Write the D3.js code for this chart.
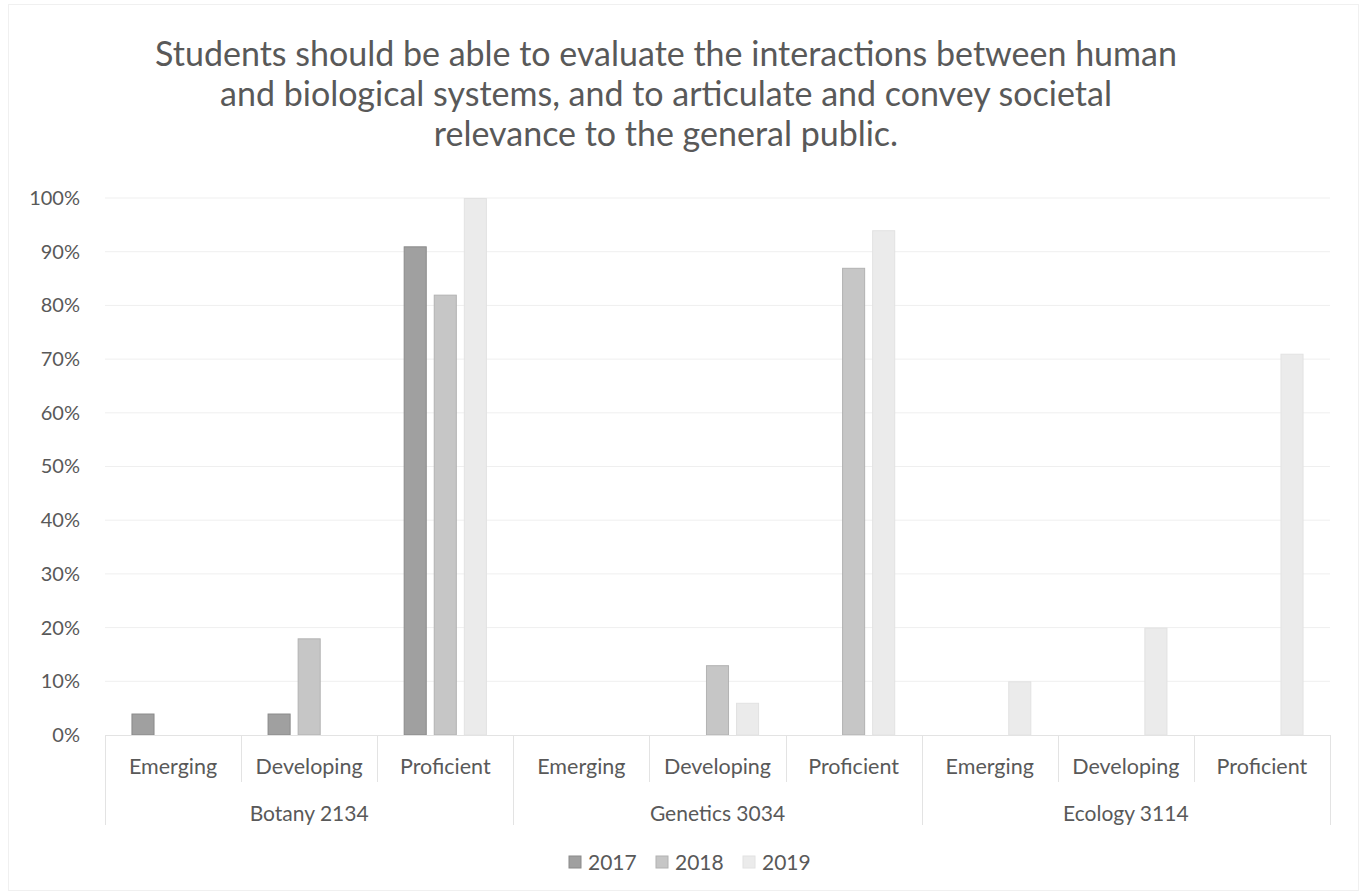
<!DOCTYPE html>
<html>
<head>
<meta charset="utf-8">
<script src="https://cdn.jsdelivr.net/npm/d3@7"></script>
<style>
  body { margin: 0; background: #fff; }
  svg text { font-family: Lato, "Open Sans", sans-serif; fill: #595959; }
</style>
</head>
<body>
<div id="chart"></div>
<script>
var courses = ["Botany 2134", "Genetics 3034", "Ecology 3114"];
var levels = ["Emerging", "Developing", "Proficient"];
var years = ["2017", "2018", "2019"];
// values per year, in order course x level
var v2017 = [0.04, 0.04, 0.91, 0, 0, 0, 0, 0, 0];
var v2018 = [0, 0.18, 0.82, 0, 0.13, 0.87, 0, 0, 0];
var v2019 = [0, 0, 1.00, 0, 0.06, 0.94, 0.10, 0.20, 0.71];
var yTicks = [0, 0.1, 0.2, 0.3, 0.4, 0.5, 0.6, 0.7, 0.8, 0.9, 1.0];
var titleLines = [
  "Students should be able to evaluate the interactions between human",
  "and biological systems, and to articulate and convey societal",
  "relevance to the general public."
];

var size = { width: 1365, height: 896 };
var plot = { left: 105, right: 1330, top: 198, bottom: 735 };
var fills = { "2017": "#a0a0a0", "2018": "#c6c6c6", "2019": "#ebebeb" };
var strokes = { "2017": "#8a8a8a", "2018": "#b2b2b2", "2019": "#e2e2e2" };
var gridColor = "#efefef";
var lineColor = "#e3e3e3";

var svg = d3.select("#chart").append("svg")
    .attr("width", size.width)
    .attr("height", size.height);

// chart border
svg.append("rect")
    .attr("x", 8.5).attr("y", 4.5)
    .attr("width", 1350).attr("height", 886)
    .attr("fill", "none")
    .attr("stroke", "#f0f0f0");

// Title
svg.append("g").selectAll("text")
    .data(titleLines)
    .enter().append("text")
    .attr("x", 666)
    .attr("y", (d, i) => 66 + i * 40)
    .attr("text-anchor", "middle")
    .attr("font-size", 34)
    .text(d => d);

// flat list of categories
var cats = [];
courses.forEach(c => levels.forEach(l => cats.push(c + "|" + l)));

var x0 = d3.scaleBand().domain(cats).range([plot.left, plot.right]);
var x1 = d3.scaleBand().domain(years).range([0, x0.bandwidth()])
    .paddingInner(0.233).paddingOuter(0.88);
var y = d3.scaleLinear().domain([0, 1]).range([plot.bottom, plot.top]);

// Gridlines
svg.append("g").selectAll("line")
    .data(yTicks.slice(1))
    .enter().append("line")
    .attr("x1", plot.left).attr("x2", plot.right)
    .attr("y1", d => y(d)).attr("y2", d => y(d))
    .attr("stroke", gridColor);

// Y axis
var yAxis = svg.append("g")
    .attr("transform", "translate(" + plot.left + ",0)")
    .call(d3.axisLeft(y).tickValues(yTicks).tickFormat(d3.format(".0%")).tickSize(0).tickPadding(25));
yAxis.select(".domain").remove();
yAxis.selectAll("text").attr("font-size", 20).attr("fill", "#595959")
    .style("font-family", "Lato, sans-serif");

// Bars
var series = [v2017, v2018, v2019];
years.forEach((yr, k) => {
  svg.append("g").selectAll("rect")
    .data(series[k].map((v, i) => ({ cat: cats[i], value: v })).filter(d => d.value > 0))
    .enter().append("rect")
    .attr("x", d => x0(d.cat) + x1(yr) + 0.5)
    .attr("y", d => y(d.value) + 0.5)
    .attr("width", x1.bandwidth() - 1)
    .attr("height", d => y(0) - y(d.value) - 0.5)
    .attr("fill", fills[yr])
    .attr("stroke", strokes[yr]);
});

// Category axis
svg.append("line")
    .attr("x1", plot.left).attr("x2", plot.right)
    .attr("y1", plot.bottom + 0.5).attr("y2", plot.bottom + 0.5)
    .attr("stroke", lineColor);

var bounds = cats.map(c => x0(c)).concat([plot.right]);
svg.append("g").selectAll("line")
    .data(bounds)
    .enter().append("line")
    .attr("x1", d => Math.round(d) + 0.5).attr("x2", d => Math.round(d) + 0.5)
    .attr("y1", plot.bottom)
    .attr("y2", (d, i) => i % 3 === 0 ? 825 : 782)
    .attr("stroke", lineColor);

svg.append("g").selectAll("text")
    .data(cats)
    .enter().append("text")
    .attr("x", d => x0(d) + x0.bandwidth() / 2)
    .attr("y", 774)
    .attr("text-anchor", "middle")
    .attr("font-size", 21.5)
    .text(d => d.split("|")[1]);

svg.append("g").selectAll("text")
    .data(courses)
    .enter().append("text")
    .attr("x", c => x0(c + "|" + levels[1]) + x0.bandwidth() / 2)
    .attr("y", 821)
    .attr("text-anchor", "middle")
    .attr("font-size", 21)
    .text(d => d);

// Legend
var legendX = [569, 656, 743];
var legend = svg.append("g").selectAll("g")
    .data(years)
    .enter().append("g")
    .attr("transform", (d, i) => "translate(" + legendX[i] + ",856)");
legend.append("rect")
    .attr("width", 12).attr("height", 12)
    .attr("fill", d => fills[d])
    .attr("stroke", d => strokes[d]);
legend.append("text")
    .attr("x", 19).attr("y", 14)
    .attr("font-size", 21)
    .text(d => d);
</script>
</body>
</html>
